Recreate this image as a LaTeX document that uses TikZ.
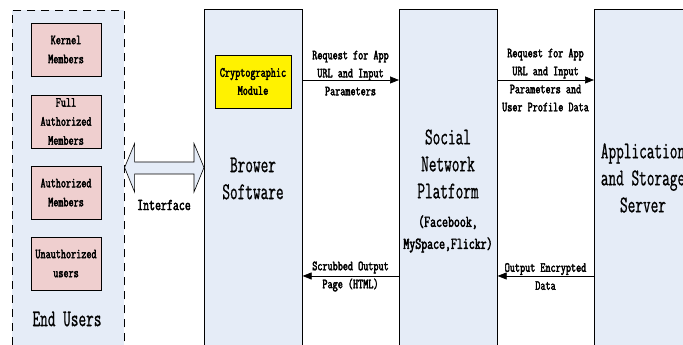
\documentclass[tikz,border=0pt]{standalone}
\usepackage{fontspec}
\usetikzlibrary{arrows.meta,calc}
% condensed typewriter faces for all labels
\newfontfamily\condfont[FakeStretch=0.707,FakeBold=2.5]{Latin Modern Mono}
\newfontfamily\midfont[FakeStretch=0.7,FakeBold=2.5]{Latin Modern Mono}
\newfontfamily\widefont[FakeStretch=0.62,FakeBold=0.8]{Latin Modern Mono}
\definecolor{paleblue}{HTML}{E5ECF7}
\definecolor{palepink}{HTML}{EFCFCF}
\tikzset{
  panel/.style={draw=black, line width=0.6pt, fill=paleblue, rectangle, inner sep=0pt},
  member/.style={draw=black, line width=0.6pt, fill=palepink, minimum width=70pt, minimum height=53pt,
    inner sep=0pt, align=center, font=\condfont\fontsize{14}{19}\selectfont},
  crypto/.style={draw=black, line width=0.6pt, fill=yellow, minimum width=76pt, minimum height=53pt,
    inner sep=0pt, align=center, font=\condfont\fontsize{14}{18}\selectfont},
  flowlabel/.style={align=center, inner sep=0pt, font=\condfont\fontsize{14}{18}\selectfont},
  bigtext/.style={align=center, inner sep=0pt, font=\widefont\fontsize{24}{27}\selectfont},
  midtext/.style={align=center, inner sep=0pt, font=\midfont\fontsize{16.5}{22}\selectfont},
  flow/.style={draw=black, line width=0.7pt, -{Triangle[length=9pt,width=7pt]}}
}
\begin{document}
\begin{tikzpicture}[x=1pt,y=1pt]
\useasboundingbox (0,0) rectangle (683,345);

% End users group
\node[panel, draw=black, dash pattern=on 8pt off 6pt, minimum width=112pt, minimum height=345pt,
  anchor=north west] (users) at (12,335) {};
\node[member] (kernel) at (66,295.5) {Kernel\\Members};
\node[member] (full) at (66,223.5) {Full\\Authorized\\Members};
\node[member] (auth) at (66,152.5) {Authorized\\Members};
\node[member] (unauth) at (66,81.5) {Unauthorized\\users};
\node[bigtext] (endusers) at (67,26) {End Users};

% Main panels
\node[panel, minimum width=98pt, minimum height=346pt, anchor=north west] (brow) at (204,336) {};
\node[panel, minimum width=98pt, minimum height=346pt, anchor=north west] (soc) at (399,336) {};
\node[panel, minimum width=98pt, minimum height=346pt, anchor=north west] (app) at (594,336) {};

\node[crypto] (crypt) at (253,263.5) {Cryptographic\\Module};
\node[bigtext] (browtxt) at (253,166.5) {Brower\\Software};
\node[bigtext] (soctxt) at (448,181) {Social\\Network\\Platform};
\node[midtext] (soceg) at (448,111) {(Facebook,\\MySpace,Flickr)};
\node[bigtext] (apptxt) at (643,167) {Application\\and Storage\\Server};

% Interface double arrow between the user group and the browser
\coordinate (ifc) at (0,177.5);
\draw[line width=0.6pt, fill=paleblue]
  (users.east |- ifc) -- ++(10,24) -- ++(0,-18.5) -- ($(brow.west |- ifc)+(-10,5.5)$)
  -- ++(0,18.5) -- (brow.west |- ifc) -- ++(-10,-24.5) -- ++(0,18) -- ($(users.east |- ifc)+(10,-6.5)$)
  -- ++(0,-18) -- cycle;
\node[midtext] (ifctxt) at (164,140) {Interface};

% Message flows
\coordinate (fwd) at (0,265);
\coordinate (back) at (0,69);
\draw[flow] (brow.east |- fwd) -- (soc.west |- fwd);
\draw[flow] (soc.east |- fwd) -- (app.west |- fwd);
\draw[flow] (soc.west |- back) -- (brow.east |- back);
\draw[flow] (app.west |- back) -- (soc.east |- back);

\node[flowlabel] (req1) at (350.5,272) {Request for App\\URL and Input\\Parameters};
\node[flowlabel] (req2) at (545.5,265) {Request for App\\URL and Input\\Parameters and\\User Profile Data};
\node[flowlabel] (scrub) at (350.5,68.5) {Scrubbed Output\\Page (HTML)};
\node[flowlabel] (encr) at (545.5,68.5) {Output Encrypted\\Data};
\end{tikzpicture}
\end{document}
